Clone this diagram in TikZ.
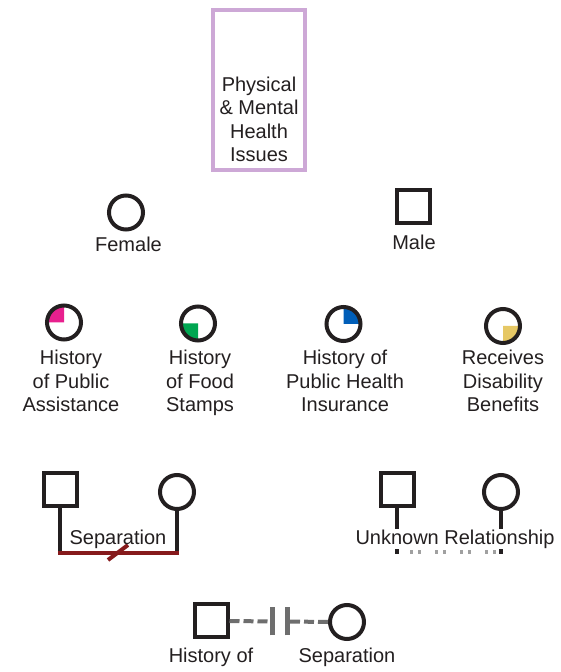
\documentclass[tikz,border=0pt]{standalone}
\usepackage{fontspec}
\setmainfont{Liberation Sans}
\begin{document}
\definecolor{ink}{HTML}{231F20}
\definecolor{lilac}{HTML}{CDA8D6}
\definecolor{qpink}{HTML}{E8208E}
\definecolor{qgreen}{HTML}{00A651}
\definecolor{qblue}{HTML}{005EB8}
\definecolor{qyellow}{HTML}{E6C865}
\definecolor{sepred}{HTML}{861A1C}
\definecolor{dotgrey}{HTML}{A0A0A0}
\definecolor{dashgrey}{HTML}{6E6E6E}
\begin{tikzpicture}[x=1pt,y=1pt,
  lbl/.style={font=\fontsize{20}{23.5}\selectfont, text=ink, align=center, inner sep=0pt},
  female/.style={circle, draw=ink, line width=4pt, minimum size=34pt, inner sep=0pt},
  male/.style={rectangle, draw=ink, line width=4pt, minimum size=33pt, inner sep=0pt},
  link/.style={draw=ink, line width=4pt}]
\useasboundingbox (0,0) rectangle (560,672);

% category box
\node[draw=lilac, line width=4pt, minimum width=92pt, minimum height=160pt, inner sep=0pt] (box) at (259,582) {};
\node[lbl] (boxtxt) at (259,552.5) {Physical\\\& Mental\\Health\\Issues};

% basic symbols
\node[female] (fem) at (126,459.5) {};
\node[lbl] (femlbl) at (128.5,428) {Female};
\node[male] (mal) at (413.5,465.5) {};
\node[lbl] (mallbl) at (414,430) {Male};

% benefit symbols with quarter fills
\fill[qpink]   (64,349.5) -- ++(-17,0) arc[start angle=180,end angle=90,radius=17] -- cycle;
\node[female] (pa) at (64,349.5) {};
\fill[qgreen]  (198,348.5) -- ++(-17,0) arc[start angle=180,end angle=270,radius=17] -- cycle;
\node[female] (fs) at (198,348.5) {};
\fill[qblue]   (343.5,348) -- ++(17,0) arc[start angle=0,end angle=90,radius=17] -- cycle;
\node[female] (phi) at (343.5,348) {};
\fill[qyellow] (503,346) -- ++(17,0) arc[start angle=0,end angle=-90,radius=17] -- cycle;
\node[female] (dis) at (503,346) {};

\node[lbl] (palbl)  at (71,291)  {History\\of Public\\Assistance};
\node[lbl] (fslbl)  at (200,289) {History\\of Food\\Stamps};
\node[lbl] (philbl) at (345,291) {History of\\Public Health\\Insurance};
\node[lbl] (dislbl) at (503,291) {Receives\\Disability\\Benefits};

% separated couple
\node[male] (sm) at (60,182) {};
\node[female] (sf) at (177,180) {};
\coordinate (smb) at (60,119);
\coordinate (sfb) at (177,119);
\draw[link] (sm.south) -- (smb);
\draw[link] (sf.south) -- (sfb);
\draw[sepred, line width=4pt] ([xshift=-2pt]smb) -- ([xshift=2pt]sfb);
\coordinate (sl1) at (108,112);
\coordinate (sl2) at (128,127);
\draw[sepred, line width=4pt] (sl1) -- (sl2);
\node[lbl] (seplbl) at (118,133) {Separation};

% couple of unknown relationship
\node[male] (um) at (397,182) {};
\node[female] (uf) at (501,180) {};
\coordinate (umb) at (397,118);
\coordinate (ufb) at (501,118);
\draw[link] (um.south) -- (umb);
\draw[link] (uf.south) -- (ufb);
\node[lbl, fill=white, inner ysep=1pt] (unklbl) at (455,133) {Unknown Relationship};
\coordinate (ud1) at (410,120);
\coordinate (ud2) at (501,120);
\draw[dotgrey, line width=4pt, dash pattern=on 3pt off 5pt on 3pt off 14pt] (ud1) -- (ud2);

% history of separation
\node[male] (hm) at (211,51) {};
\node[female] (hf) at (347,50) {};
\coordinate (bl) at (272.5,50.5);
\coordinate (br) at (287.5,50.5);
\draw[dashgrey, line width=4pt, dash pattern=on 10pt off 4pt] (hm.east) -- (bl);
\draw[dashgrey, line width=4pt, dash pattern=on 10pt off 4pt] (hf.west) -- (br);
\draw[dashgrey, line width=5pt] ([yshift=-14pt]bl) -- ([yshift=14pt]bl);
\draw[dashgrey, line width=5pt] ([yshift=-14pt]br) -- ([yshift=14pt]br);
\node[lbl] (hslbl1) at (211,15) {History of};
\node[lbl] (hslbl2) at (347,15) {Separation};
\end{tikzpicture}
\end{document}
